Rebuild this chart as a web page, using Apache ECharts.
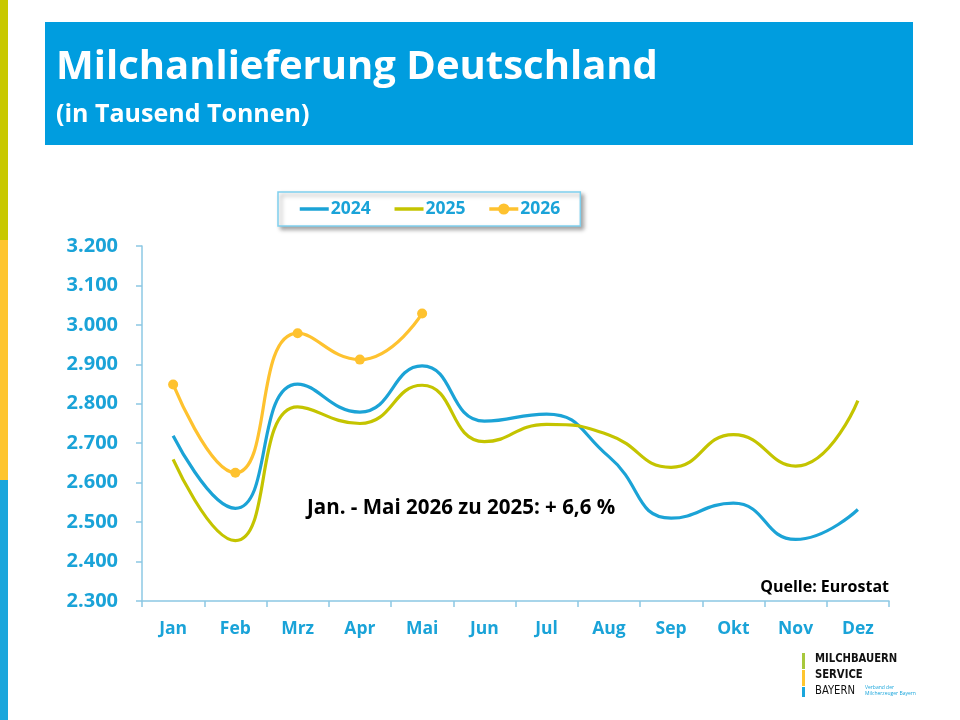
<!DOCTYPE html>
<html><head><meta charset="utf-8">
<script src="https://cdn.jsdelivr.net/npm/echarts@6/dist/echarts.min.js"></script>
<style>html,body{margin:0;padding:0;background:#fff}#c{width:960px;height:720px}</style>
</head><body><div id="c"></div>
<script>
const categories = ['Jan','Feb','Mrz','Apr','Mai','Jun','Jul','Aug','Sep','Okt','Nov','Dez'];
const values2024 = [2719, 2535, 2850, 2779, 2896, 2756, 2774, 2666, 2510, 2548, 2456, 2532];
const values2025 = [2659, 2453, 2792, 2750, 2847, 2704, 2748, 2721, 2639, 2722, 2642, 2808];
const values2026 = [2849, 2625, 2979, 2912, 3029];
const yTicks = {min: 2300, max: 3200, step: 100};

const FONT = '"Open Sans"';
const BLUE = '#1aa3d8';
const chart = echarts.init(document.getElementById('c'), null, {renderer: 'canvas'});
function fmt(v){ return String(v).replace(/\B(?=(\d{3})+(?!\d))/g, '.'); }

chart.setOption({
  backgroundColor: '#fff',
  animation: false,
  textStyle: {fontFamily: FONT},
  grid: {left: 142, right: 71, top: 246, bottom: 119, containLabel: false},
  legend: {
    left: 278, top: 192,
    padding: [8, 20, 8, 20],
    itemGap: 22, itemWidth: 29, itemHeight: 14,
    backgroundColor: '#fff', borderColor: '#7fd0ee', borderWidth: 1.5,
    shadowColor: 'rgba(0,0,0,0.35)', shadowBlur: 4, shadowOffsetX: 3, shadowOffsetY: 3,
    lineStyle: {width: 3.5},
    textStyle: {color: BLUE, fontSize: 17.5, fontWeight: 'bold', fontFamily: FONT, padding: [0,0,0,-3]},
    data: [
      {name: '2024', itemStyle: {opacity: 0}},
      {name: '2025', itemStyle: {opacity: 0}},
      {name: '2026'}
    ]
  },
  xAxis: {
    type: 'category', data: categories, boundaryGap: true,
    axisLine: {lineStyle: {color: '#8cc8e4', width: 1.5}},
    axisTick: {show: true, length: 6, lineStyle: {color: '#8cc8e4', width: 1.5}},
    axisLabel: {color: BLUE, fontSize: 17.5, fontWeight: 'bold', fontFamily: FONT, margin: 19}
  },
  yAxis: {
    type: 'value', min: yTicks.min, max: yTicks.max, interval: yTicks.step,
    splitLine: {show: false},
    axisLine: {show: true, lineStyle: {color: '#8cc8e4', width: 1.5}},
    axisTick: {show: true, length: 6, lineStyle: {color: '#8cc8e4', width: 1.5}},
    axisLabel: {color: BLUE, fontSize: 20, fontWeight: 'bold', fontFamily: FONT, margin: 24, formatter: fmt}
  },
  series: [
    {name: '2024', type: 'line', data: values2024, smooth: 0.5, symbol: 'none',
     lineStyle: {color: '#1ba3d6', width: 3.2}, itemStyle: {color: '#1ba3d6'}},
    {name: '2025', type: 'line', data: values2025, smooth: 0.5, symbol: 'none',
     lineStyle: {color: '#c4c400', width: 3.2}, itemStyle: {color: '#c4c400'}},
    {name: '2026', type: 'line', data: values2026, smooth: 0.5, symbol: 'circle', symbolSize: 10,
     lineStyle: {color: '#fec22f', width: 3.2}, itemStyle: {color: '#fec22f'}}
  ],
  graphic: [
    {type: 'rect', shape: {x: 0, y: 0, width: 8, height: 240}, style: {fill: '#c8c800'}, silent: true},
    {type: 'rect', shape: {x: 0, y: 240, width: 8, height: 240}, style: {fill: '#fec52e'}, silent: true},
    {type: 'rect', shape: {x: 0, y: 480, width: 8, height: 240}, style: {fill: '#1aa6dc'}, silent: true},
    {type: 'rect', shape: {x: 45, y: 22, width: 868, height: 123}, style: {fill: '#009ddf'}, silent: true},
    {type: 'text', left: 56, top: 48, style: {text: 'Milchanlieferung Deutschland', fill: '#fff', font: 'bold 40px "Open Sans"'}},
    {type: 'text', left: 56, top: 102, style: {text: '(in Tausend Tonnen)', fill: '#fff', font: 'bold 25px "Open Sans"'}},
    {type: 'text', left: 307, top: 498, style: {text: 'Jan. - Mai 2026 zu 2025: + 6,6 %', fill: '#000', font: 'bold 20.5px "Open Sans"'}},
    {type: 'text', right: 71, top: 579, style: {text: 'Quelle: Eurostat', fill: '#000', font: 'bold 16px "Open Sans"', align: 'right'}},
    {type: 'rect', shape: {x: 802, y: 653, width: 3, height: 16}, style: {fill: '#a8c83c'}, silent: true},
    {type: 'rect', shape: {x: 802, y: 670, width: 3, height: 16}, style: {fill: '#fec52e'}, silent: true},
    {type: 'rect', shape: {x: 802, y: 687, width: 3, height: 10}, style: {fill: '#1aa6dc'}, silent: true},
    {type: 'text', x: 815, y: 652, scaleX: 0.86, style: {text: 'MILCHBAUERN', fill: '#111', font: 'bold 13px "Liberation Sans Narrow", "DejaVu Sans Condensed", sans-serif'}},
    {type: 'text', x: 815, y: 668, scaleX: 0.86, style: {text: 'SERVICE', fill: '#111', font: 'bold 13px "Liberation Sans Narrow", "DejaVu Sans Condensed", sans-serif'}},
    {type: 'text', x: 815, y: 684, scaleX: 0.86, style: {text: 'BAYERN', fill: '#111', font: '13px "Liberation Sans Narrow", "DejaVu Sans Condensed", sans-serif'}},
    {type: 'text', x: 865, y: 685, style: {text: 'Verband der', fill: '#1aa6dc', font: '5px "Open Sans"'}},
    {type: 'text', x: 865, y: 691, style: {text: 'Milcherzeuger Bayern', fill: '#1aa6dc', font: '5px "Open Sans"'}}
  ]
});
</script></body></html>
